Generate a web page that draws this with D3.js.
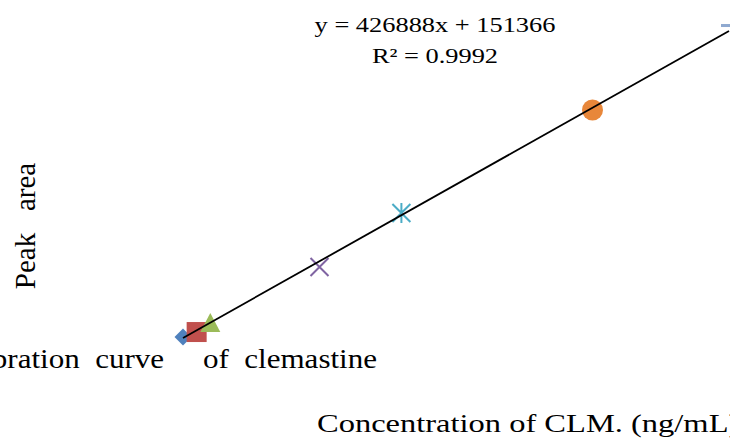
<!DOCTYPE html>
<html>
<head>
<meta charset="utf-8">
<script src="https://cdn.jsdelivr.net/npm/d3@7"></script>
<style>
  body { margin: 0; background: #fff; }
  text { font-family: "Liberation Serif", "Times New Roman", serif; fill: #000; white-space: pre; }
</style>
</head>
<body>
<div id="chart"></div>
<script>
// calibration points (ng/mL vs peak area), one marker style per point
var concentrations = [1, 2, 3, 11, 17, 31, 41];
var peakAreas = [630000, 910000, 1360000, 4530000, 7530000, 13260000, 17930000];
var markerShapes = ["diamond", "square", "triangle", "cross", "asterisk", "circle", "dash"];
var markerColors = ["#4F81BD", "#C0504D", "#9BBB59", "#8064A2", "#4BACC6", "#E8873A", "#8FA9D0"];
var trendSlope = 426888;
var trendIntercept = 151366;
var equationLines = ["y = 426888x + 151366", "R\u00b2 = 0.9992"];

var width = 730, height = 440;

var svg = d3.select("#chart")
  .append("svg")
  .attr("width", width)
  .attr("height", height);

// plot area runs past the right edge of the picture
var x = d3.scaleLinear().domain([0, 50]).range([169.35, 851.85]);
var y = d3.scaleLinear().domain([0, 20000000]).range([348.4, -11.2]);

var points = concentrations.map(function(c, i){
  return {c: c, a: peakAreas[i], shape: markerShapes[i], color: markerColors[i]};
});

var marks = svg.append("g").attr("class", "markers");

points.forEach(function(d){
  var g = marks.append("g")
    .attr("transform", "translate(" + x(d.c) + "," + y(d.a) + ")");
  if (d.shape == "diamond") {
    g.append("rect").attr("x", -6).attr("y", -6).attr("width", 12).attr("height", 12)
      .attr("transform", "rotate(45)").attr("fill", d.color);
  } else if (d.shape == "square") {
    g.append("rect").attr("x", -10).attr("y", -10).attr("width", 20).attr("height", 20)
      .attr("fill", d.color);
  } else if (d.shape == "triangle") {
    g.append("path").attr("d", "M0,-11L10,8L-10,8Z").attr("fill", d.color);
  } else if (d.shape == "cross") {
    g.append("path").attr("d", "M-9,-9L9,9M-9,9L9,-9")
      .attr("stroke", d.color).attr("stroke-width", 2).attr("fill", "none");
  } else if (d.shape == "asterisk") {
    g.append("path").attr("d", "M-9,-9L9,9M-9,9L9,-9M0,-10L0,10")
      .attr("stroke", d.color).attr("stroke-width", 2).attr("fill", "none");
  } else if (d.shape == "circle") {
    g.append("circle").attr("r", 10.5).attr("fill", d.color);
  } else if (d.shape == "dash") {
    g.append("rect").attr("x", -8).attr("y", -2).attr("width", 16).attr("height", 3)
      .attr("fill", d.color);
  }
});

// linear trendline over the data range
var xr = d3.extent(concentrations);
var trend = xr.map(function(c){ return {c: c, a: trendSlope * c + trendIntercept}; });

svg.append("path")
  .datum(trend)
  .attr("d", d3.line().x(function(d){ return x(d.c); }).y(function(d){ return y(d.a); }))
  .attr("stroke", "#000")
  .attr("stroke-width", 1.8)
  .attr("fill", "none");

// text is a bit wider than normal in the original
var eq = svg.append("g").attr("transform", "translate(435,0)");
eq.selectAll("text")
  .data(equationLines)
  .enter()
  .append("text")
  .attr("transform", function(d, i){ return "translate(0," + (32 + i * 31) + ") scale(1.2,1)"; })
  .attr("text-anchor", "middle")
  .attr("font-size", 22)
  .text(function(d){ return d; });

svg.append("text")
  .attr("transform", "translate(35,226) rotate(-90)")
  .attr("text-anchor", "middle")
  .attr("font-size", 29)
  .text("Peak   area");

svg.append("text")
  .attr("transform", "translate(377,368) scale(1.15,1)")
  .attr("text-anchor", "end")
  .attr("font-size", 27)
  .text("Calibration  curve     of  clemastine");

svg.append("text")
  .attr("transform", "translate(317,432) scale(1.25,1)")
  .attr("font-size", 26)
  .text("Concentration of CLM. (ng/mL)");
</script>
</body>
</html>
